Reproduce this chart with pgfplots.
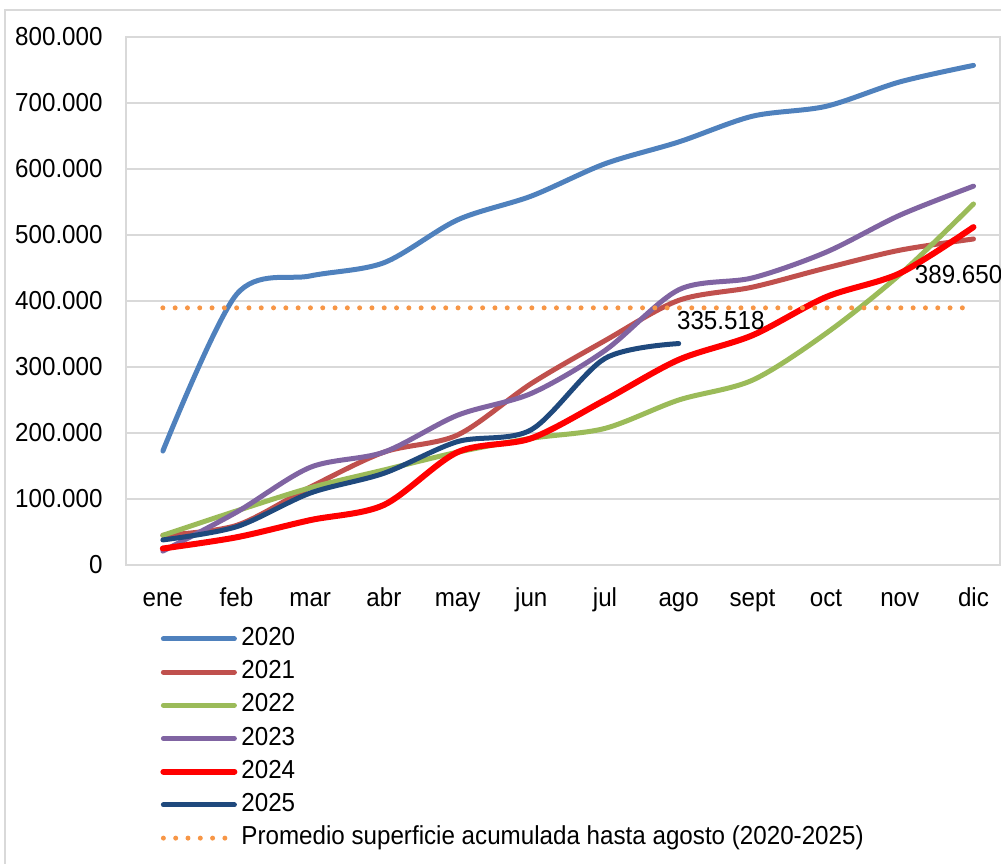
\documentclass[border=0pt]{standalone}
\usepackage{pgfplots}
\pgfplotsset{compat=1.18}
\usepackage{fontspec}
\setmainfont{Liberation Sans}[FakeStretch=0.93]
\definecolor{c2020}{HTML}{4F81BD}
\definecolor{c2021}{HTML}{C0504D}
\definecolor{c2022}{HTML}{9BBB59}
\definecolor{c2023}{HTML}{8064A2}
\definecolor{c2024}{HTML}{FF0000}
\definecolor{c2025}{HTML}{1F497D}
\definecolor{cavg}{HTML}{F79646}
\definecolor{cgrid}{HTML}{D9D9D9}
\begin{document}
\begin{tikzpicture}
\begin{axis}[
  scale only axis,
  width=437pt, height=264pt,
  xmin=-0.5, xmax=11.36,
  ymin=0, ymax=800000,
  xtick={0,...,11},
  xticklabels={ene,feb,mar,abr,may,jun,jul,ago,sept,oct,nov,dic},
  ytick={0,100000,...,800000},
  scaled y ticks=false,
  yticklabel style={/pgf/number format/fixed, /pgf/number format/precision=0,
    /pgf/number format/1000 sep={.}, /pgf/number format/assume math mode=true,
    anchor=east, inner sep=0pt, xshift=-11.5pt},
  major tick length=0pt,
  ymajorgrids,
  grid style={cgrid, line width=0.75pt},
  axis line style={cgrid, line width=1pt},
  font=\fontsize{13}{15.6}\selectfont,
  xticklabel style={anchor=base, inner sep=0pt, yshift=-20.5pt},
  clip=false,
  legend cell align=left,
  legend style={at={(axis description cs:0,0)}, anchor=north west,
    xshift=17pt, yshift=-31pt, draw=none, fill=none, inner sep=0pt,
    row sep=5.1pt, column sep=2pt,
    nodes={inner sep=0pt, text height=9pt, text depth=2.5pt, anchor=west},
    font=\fontsize{13}{15.6}\selectfont},
  legend image code/.code={\draw[#1] (0pt,0pt) -- (35.5pt,0pt);},
  every axis plot/.append style={smooth, line cap=round, line join=round},
]
\addplot[c2020, line width=2.5pt] coordinates {(0,172700) (1,410000) (2,438000) (3,458000) (4,523000) (5,559000) (6,608000) (7,641000) (8,680000) (9,695000) (10,732000) (11,757000)};
\addlegendentry{2020}
\addplot[c2021, line width=2.5pt] coordinates {(0,45000) (1,60000) (2,118000) (3,171000) (4,197000) (5,275000) (6,340000) (7,401000) (8,421000) (9,450000) (10,477000) (11,494000)};
\addlegendentry{2021}
\addplot[c2022, line width=2.5pt] coordinates {(0,45000) (1,82000) (2,117000) (3,144000) (4,171000) (5,192000) (6,207000) (7,250000) (8,280000) (9,351000) (10,440000) (11,547000)};
\addlegendentry{2022}
\addplot[c2023, line width=2.5pt] coordinates {(0,21000) (1,80000) (2,148000) (3,171000) (4,227000) (5,260000) (6,325000) (7,417000) (8,435000) (9,474000) (10,530000) (11,574000)};
\addlegendentry{2023}
\addplot[c2024, line width=3pt] coordinates {(0,25000) (1,42000) (2,68000) (3,91000) (4,171000) (5,192000) (6,250000) (7,311000) (8,348000) (9,406000) (10,442000) (11,512000)};
\addlegendentry{2024}
\addplot[c2025, line width=2.5pt] coordinates {(0,38000) (1,58000) (2,109000) (3,139000) (4,187000) (5,205000) (6,313000) (7,335518)};
\addlegendentry{2025}
\addplot[cavg, line width=2.5pt, sharp plot, dash pattern=on 0pt off 6.15pt] coordinates {(0,389650) (1,389650) (2,389650) (3,389650) (4,389650) (5,389650) (6,389650) (7,389650) (8,389650) (9,389650) (10,389650) (11,389650)};
\addlegendentry{Promedio superficie acumulada hasta agosto (2020-2025)}
\node[anchor=base west, inner sep=0pt, xshift=-1pt, yshift=6.8pt, font=\fontsize{13}{15.6}\selectfont] at (axis cs:7,335518) {335.518};
\node[anchor=base west, inner sep=0pt, xshift=-29.5pt, yshift=12.4pt, font=\fontsize{13}{15.6}\selectfont] at (axis cs:11,389650) {389.650};
\end{axis}
\draw[cgrid, line width=1pt] (-60.5pt,-160pt) -- (-60.5pt,277.5pt) -- (450pt,277.5pt);
\pgfresetboundingbox
\useasboundingbox (-63pt,-149pt) rectangle (437.5pt,282.5pt);
\end{tikzpicture}
\end{document}
